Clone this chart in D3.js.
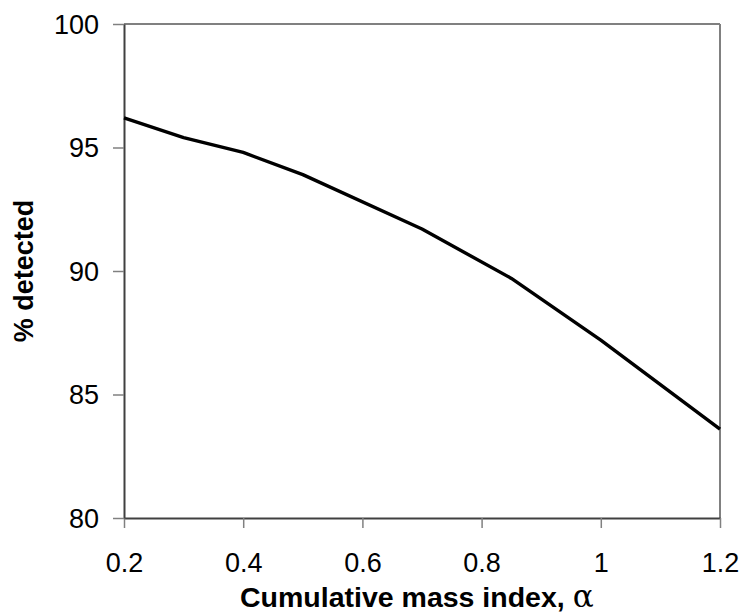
<!DOCTYPE html>
<html>
<head>
<meta charset="utf-8">
<script src="https://cdn.jsdelivr.net/npm/d3@7"></script>
<style>
  body { margin: 0; background: #fff; }
  text { font-family: "Liberation Sans", Arial, sans-serif; }
</style>
</head>
<body>
<div id="chart"></div>
<script>
// data
var alphaVals = [0.2, 0.3, 0.4, 0.5, 0.7, 0.85, 1.0, 1.2];
var pctDetected = [96.2, 95.4, 94.8, 93.9, 91.7, 89.7, 87.2, 83.6];
var xTicks = [0.2, 0.4, 0.6, 0.8, 1, 1.2];
var yTicks = [80, 85, 90, 95, 100];

// set the dimensions and margins of the graph
var margin = { top: 24, right: 22, bottom: 97, left: 124 },
  width = 742 - margin.left - margin.right,
  height = 615 - margin.top - margin.bottom;

var svg = d3.select("#chart")
  .append("svg")
  .attr("width", 742)
  .attr("height", 615)
  .append("g")
  .attr("transform", "translate(" + margin.left + "," + margin.top + ")");

var x = d3.scaleLinear().domain([0.2, 1.2]).range([0, width]);
var y = d3.scaleLinear().domain([80, 100]).range([height, 0]);

// top and right frame lines (grey)
svg.append("line")
  .attr("x1", 0).attr("x2", width).attr("y1", 0).attr("y2", 0)
  .attr("stroke", "#808080").attr("stroke-width", 2);
svg.append("line")
  .attr("x1", width).attr("x2", width).attr("y1", 0).attr("y2", height)
  .attr("stroke", "#808080").attr("stroke-width", 2);

// X axis
var xAxis = svg.append("g")
  .attr("transform", "translate(0," + height + ")")
  .call(d3.axisBottom(x).tickValues(xTicks).tickSize(10).tickSizeOuter(0).tickPadding(25)
    .tickFormat(function (d) { return String(d); }));

// Y axis
var yAxis = svg.append("g")
  .call(d3.axisLeft(y).tickValues(yTicks).tickSize(11).tickSizeOuter(0).tickPadding(14));

[xAxis, yAxis].forEach(function (a) {
  a.select(".domain").attr("stroke", "#404040").attr("stroke-width", 2);
  a.selectAll(".tick line").attr("stroke", "#808080").attr("stroke-width", 1.5);
  a.selectAll(".tick text")
    .style("font-family", "'Liberation Sans', Arial, sans-serif")
    .style("font-size", "27px")
    .attr("fill", "#000");
});
yAxis.selectAll(".tick text").attr("dy", "0.35em");

// the curve
var line = d3.line()
  .x(function (d, i) { return x(alphaVals[i]); })
  .y(function (d) { return y(d); });

svg.append("path")
  .datum(pctDetected)
  .attr("fill", "none")
  .attr("stroke", "#000")
  .attr("stroke-width", 3.4)
  .attr("stroke-linejoin", "round")
  .attr("d", line);

// X axis label
var xTitle = svg.append("text")
  .attr("text-anchor", "start")
  .attr("x", 116)
  .attr("y", height + 89)
  .style("font-size", "28.5px")
  .style("font-weight", "bold");
xTitle.append("tspan").text("Cumulative mass index, ");
xTitle.append("tspan")
  .style("font-family", "'DejaVu Serif', serif")
  .style("font-weight", "normal")
  .style("font-size", "31px")
  .text("α");

// Y axis label
svg.append("text")
  .attr("text-anchor", "middle")
  .attr("transform", "rotate(-90)")
  .attr("x", -height / 2)
  .attr("y", -margin.left + 33)
  .style("font-size", "27px")
  .style("font-weight", "bold")
  .text("% detected");
</script>
</body>
</html>
